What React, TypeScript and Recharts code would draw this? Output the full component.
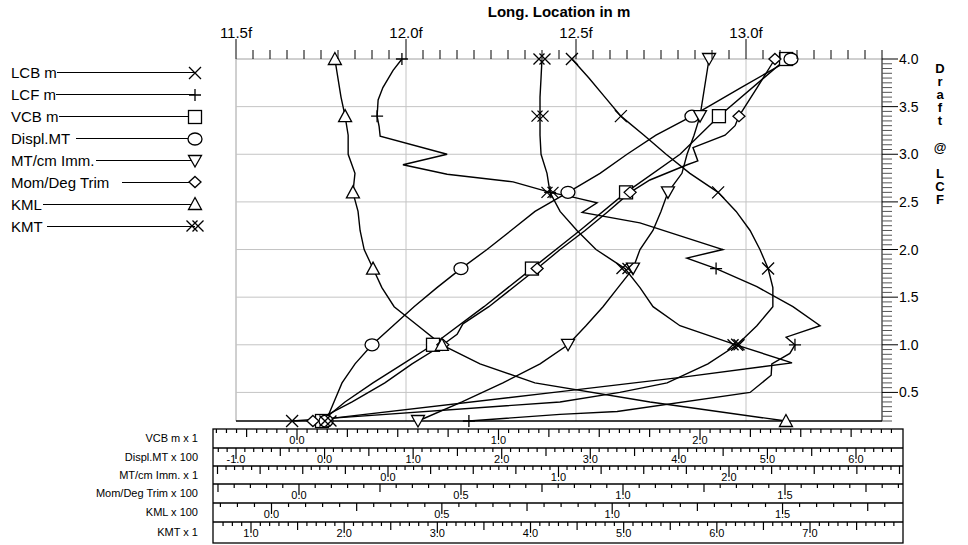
import React from "react";
import { ComposedChart, Line, XAxis, YAxis, ReferenceLine } from "recharts";

// ---- data (draft in m, value on each curve's own scale) ----
const lcbDraft = [4.0, 3.8, 3.6, 3.4, 3.2, 3.0, 2.8, 2.6, 2.4, 2.2, 2.0, 1.8, 1.6, 1.4, 1.2, 1.0, 0.8, 0.6, 0.5, 0.4, 0.23, 0.2];
const lcbValue = [12.488, 12.538, 12.585, 12.632, 12.7, 12.765, 12.835, 12.918, 12.971, 13.012, 13.041, 13.065, 13.079, 13.079, 13.032, 12.974, 12.888, 12.768, 12.629, 12.453, 11.785, 11.665];

const lcfDraft = [4.0, 3.88, 3.7, 3.57, 3.4, 3.29, 3.19, 3.0, 2.89, 2.79, 2.71, 2.6, 2.55, 2.49, 2.39, 2.28, 2.0, 1.91, 1.8, 1.61, 1.4, 1.2, 1.08, 1.0, 0.91, 0.8, 0.68, 0.5, 0.3, 0.27, 0.2];
const lcfValue = [11.988, 11.962, 11.932, 11.918, 11.915, 11.921, 11.924, 12.121, 11.991, 12.121, 12.315, 12.424, 12.491, 12.562, 12.518, 12.688, 12.932, 12.826, 12.912, 13.032, 13.138, 13.218, 13.118, 13.144, 13.129, 13.076, 13.074, 13.012, 12.621, 12.453, 12.185];

const vcbDraft = [4.0, 3.4, 3.0, 2.6, 2.2, 1.8, 1.4, 1.0, 0.8, 0.6, 0.4, 0.2];
const vcbValue = [2.427, 2.094, 1.901, 1.633, 1.404, 1.166, 0.928, 0.675, 0.526, 0.377, 0.238, 0.124];

const displDraft = [4.0, 3.7, 3.4, 3.2, 3.0, 2.8, 2.6, 2.4, 2.2, 2.0, 1.8, 1.6, 1.4, 1.2, 1.0, 0.8, 0.6, 0.4, 0.2];
const displValue = [5.266, 4.702, 4.148, 3.742, 3.415, 3.11, 2.748, 2.376, 2.105, 1.834, 1.54, 1.269, 1.01, 0.773, 0.536, 0.344, 0.197, 0.106, 0.016];

const mtcDraft = [4.0, 3.4, 3.2, 3.0, 2.8, 2.6, 2.4, 2.2, 2.0, 1.8, 1.6, 1.4, 1.2, 1.0, 0.8, 0.6, 0.4, 0.2];
const mtcValue = [1.883, 1.83, 1.795, 1.754, 1.724, 1.642, 1.601, 1.554, 1.478, 1.437, 1.349, 1.261, 1.161, 1.056, 0.892, 0.674, 0.434, 0.176];

const momDraft = [4.0, 3.7, 3.4, 3.3, 3.2, 3.07, 2.93, 2.89, 2.73, 2.6, 2.4, 2.2, 2.0, 1.8, 1.4, 1.22, 1.11, 1.0, 0.8, 0.6, 0.4, 0.25, 0.2];
const momValue = [1.469, 1.414, 1.358, 1.346, 1.315, 1.216, 1.231, 1.198, 1.083, 1.022, 0.954, 0.883, 0.806, 0.735, 0.586, 0.506, 0.488, 0.444, 0.349, 0.265, 0.164, 0.08, 0.043];

const kmlDraft = [4.0, 3.8, 3.6, 3.4, 3.2, 3.0, 2.8, 2.6, 2.4, 2.2, 2.0, 1.8, 1.6, 1.4, 1.2, 1.0, 0.8, 0.6, 0.4, 0.2];
const kmlValue = [0.186, 0.195, 0.204, 0.216, 0.225, 0.225, 0.245, 0.239, 0.254, 0.26, 0.272, 0.298, 0.324, 0.36, 0.43, 0.5, 0.612, 0.773, 1.111, 1.51];

const kmtDraft = [4.0, 3.8, 3.6, 3.4, 3.2, 3.0, 2.8, 2.6, 2.4, 2.2, 2.0, 1.8, 1.6, 1.4, 1.2, 1.0, 0.81, 0.66, 0.5, 0.23, 0.2];
const kmtValue = [4.123, 4.113, 4.102, 4.102, 4.102, 4.113, 4.177, 4.209, 4.317, 4.499, 4.703, 5.014, 5.175, 5.315, 5.604, 6.206, 6.807, 5.637, 4.252, 1.88, 1.826];

// drafts where the symbols are drawn
const markerDrafts = [4.0, 3.4, 2.6, 1.8, 1.0, 0.2];

// axis labels
const topLabels = [11.5, 12.0, 12.5, 13.0];
const gridLong = [12.0, 12.5, 13.0];
const gridDraft = [0.5, 1.0, 1.5, 2.0, 2.5, 3.0, 3.5];
const rightLabels = [0.5, 1.0, 1.5, 2.0, 2.5, 3.0, 3.5, 4.0];

const legendNames = ["LCB m", "LCF m", "VCB m", "Displ.MT", "MT/cm Imm.", "Mom/Deg Trim", "KML", "KMT"];
const legendMarks = ["x", "plus", "square", "circle", "tdown", "diamond", "tup", "xx"];
const legendGap = [0, 0, 0, 6, 2, 13, 1, 4];

const scaleNames = ["VCB m x 1", "Displ.MT x 100", "MT/cm Imm. x 1", "Mom/Deg Trim x 100", "KML  x 100", "KMT  x 1"];
const vcbLabels = [0, 1, 2];
const displLabels = [-1, 0, 1, 2, 3, 4, 5, 6];
const mtcLabels = [0, 1, 2];
const momLabels = [0, 0.5, 1, 1.5];
const kmlLabels = [0, 0.5, 1, 1.5];
const kmtLabels = [1, 2, 3, 4, 5, 6, 7];

const sideTitle = "Draft @ LCF";

const FONT = "'Liberation Sans', Arial, sans-serif";
const PLOT_W = 646;

const toPoints = (ds: number[], vs: number[]) => ds.map((d, i) => ({ d, v: vs[i] }));

function range(lo: number, hi: number, step: number) {
  const out: number[] = [];
  for (let i = Math.ceil(lo / step - 1e-6); i * step <= hi + 1e-6; i++) {
    out.push(Math.round(i * step * 1000) / 1000);
  }
  return out;
}

const near = (a: number, b: number) => Math.abs(a - b) < 1e-6;
const onStep = (v: number, step: number) => near(v / step, Math.round(v / step));

function Marker({ kind, cx, cy }: { kind: string; cx: number; cy: number }) {
  const open = { stroke: "#000", strokeWidth: 1.3, fill: "#fff" };
  const ln = { stroke: "#000", strokeWidth: 1.3, fill: "none" };
  const cross = (x: number, y: number, r: number) =>
    `M${x - r} ${y - r}L${x + r} ${y + r}M${x - r} ${y + r}L${x + r} ${y - r}`;
  switch (kind) {
    case "x":
      return <path d={cross(cx, cy, 6)} {...ln} />;
    case "plus":
      return <path d={`M${cx - 6} ${cy}H${cx + 6}M${cx} ${cy - 6}V${cy + 6}`} {...ln} />;
    case "square":
      return <rect x={cx - 6.5} y={cy - 6.5} width={13} height={13} {...open} />;
    case "circle":
      return <ellipse cx={cx} cy={cy} rx={7} ry={6} {...open} />;
    case "tdown":
      return <path d={`M${cx - 6.5} ${cy - 5.5}H${cx + 6.5}L${cx} ${cy + 6}Z`} {...open} />;
    case "diamond":
      return <path d={`M${cx} ${cy - 5.5}L${cx + 6} ${cy}L${cx} ${cy + 5.5}L${cx - 6} ${cy}Z`} {...open} />;
    case "tup":
      return <path d={`M${cx} ${cy - 6.5}L${cx + 6.5} ${cy + 5.5}H${cx - 6.5}Z`} {...open} />;
    default:
      return <path d={cross(cx - 3, cy, 5.5) + cross(cx + 3, cy, 5.5)} {...ln} />;
  }
}

const dotFor = (kind: string) => (p: any) => {
  const show = p.payload && markerDrafts.some((m) => near(m, p.payload.d));
  if (!show || p.cx == null || p.cy == null) return <g key={`n-${p.index}`} />;
  return (
    <g key={`m-${p.index}`}>
      <Marker kind={kind} cx={p.cx} cy={p.cy} />
    </g>
  );
};

// bottom scale rows: each one is the x axis of its own curve
// (recharts stacks bottom axes by id, hence the letter prefixes)
const rows = [
  { id: "b_vcb", name: scaleNames[0], domain: [-0.3027, 2.9032], minor: 0.05, major: 0.25, labels: vcbLabels, height: 19, draft: vcbDraft, value: vcbValue, mark: "square" },
  { id: "c_displ", name: scaleNames[1], domain: [-1.0, 6.2937], minor: 0.1, major: 0.5, labels: displLabels, height: 18, draft: displDraft, value: displValue, mark: "circle" },
  { id: "d_mtc", name: scaleNames[2], domain: [-0.8915, 2.8974], minor: 0.05, major: 0.25, labels: mtcLabels, height: 18, draft: mtcDraft, value: mtcValue, mark: "tdown" },
  { id: "e_mom", name: scaleNames[3], domain: [-0.1944, 1.7994], minor: 0.05, major: 0.25, labels: momLabels, height: 19, draft: momDraft, value: momValue, mark: "diamond" },
  { id: "f_kml", name: scaleNames[4], domain: [-0.1042, 1.7919], minor: 0.05, major: 0.25, labels: kmlLabels, height: 19, draft: kmlDraft, value: kmlValue, mark: "tup" },
  { id: "g_kmt", name: scaleNames[5], domain: [0.839, 7.7726], minor: 0.1, major: 0.5, labels: kmtLabels, height: 21, draft: kmtDraft, value: kmtValue, mark: "xx" },
];

const rowTicks = (domain: number[], step: number) => {
  const perPx = (domain[1] - domain[0]) / PLOT_W;
  return range(domain[0] - 20 * perPx, domain[1] + 18 * perPx, step);
};

const rowTick = (row: (typeof rows)[number]) => (props: any) => {
  const { x, y, payload } = props;
  const v = payload.value;
  const isLabel = row.labels.some((l) => near(l, v));
  const len = isLabel ? 11 : onStep(v, row.major) ? 8 : 4;
  return (
    <g>
      {isLabel && (
        <text x={x} y={y + 15} textAnchor="middle" fontSize={11} fontFamily={FONT} fill="#000">
          {v.toFixed(1)}
        </text>
      )}
      <line x1={x} x2={x} y1={y} y2={y + len} stroke="#000" strokeWidth={1.2} />
    </g>
  );
};

const topTick = (props: any) => {
  const { x, y, payload } = props;
  const v = payload.value;
  const isLabel = topLabels.some((l) => near(l, v));
  return (
    <g>
      <line x1={x} x2={x} y1={y} y2={y - (isLabel ? 20 : 9)} stroke="#000" strokeWidth={1} />
      {isLabel && (
        <text x={x} y={y - 21} textAnchor="middle" fontSize={15} fontFamily={FONT} fill="#000">
          {`${v.toFixed(1)}f`}
        </text>
      )}
    </g>
  );
};

const rightTick = (props: any) => {
  const { x, y, payload } = props;
  const v = payload.value;
  const isLabel = rightLabels.some((l) => near(l, v));
  return (
    <g>
      <line x1={x} x2={x + (isLabel ? 16 : 10)} y1={y} y2={y} stroke={isLabel ? "#000" : "#555"} strokeWidth={1} />
      {isLabel && (
        <text x={x + 17} y={y + 5} fontSize={14} fontFamily={FONT} fill="#000">
          {v.toFixed(1)}
        </text>
      )}
    </g>
  );
};

function SideTitle(props: any) {
  const vb = props.viewBox || { x: 882 };
  return (
    <g>
      {sideTitle.split("").map((ch, i) => (
        <text key={i} x={vb.x + 58} y={73 + i * 13.1} textAnchor="middle" fontSize={13} fontWeight="bold" fontFamily={FONT} fill="#000">
          {ch.trim()}
        </text>
      ))}
    </g>
  );
}

function LegendBox() {
  return (
    <div style={{ position: "absolute", left: 11, top: 62, width: 185, fontFamily: FONT, fontSize: 15, color: "#000" }}>
      {legendNames.map((n, i) => (
        <div key={n} style={{ display: "flex", alignItems: "center", height: 21.9 }}>
          <span style={{ whiteSpace: "pre" }}>{n}</span>
          <div style={{ flex: 1, marginLeft: legendGap[i], borderTop: "1.3px solid #000", height: 0 }} />
          <svg width={1} height={16} style={{ display: "block", overflow: "visible" }}>
            <Marker kind={legendMarks[i]} cx={0} cy={8} />
          </svg>
        </div>
      ))}
    </div>
  );
}

function ScaleBox() {
  const lines = [448, 466, 484, 503, 522];
  return (
    <svg width={968} height={545} style={{ position: "absolute", left: 0, top: 0, pointerEvents: "none" }}>
      <rect x={213} y={429} width={690} height={114} fill="none" stroke="#000" strokeWidth={1.3} />
      {lines.map((y) => (
        <line key={y} x1={213} x2={903} y1={y} y2={y} stroke="#000" strokeWidth={1.3} />
      ))}
    </svg>
  );
}

export default function App() {
  const longTicks = range(11.5, 13.4, 0.05);
  const draftTicks = range(0.2, 4.0, 0.05);
  const lcb = toPoints(lcbDraft, lcbValue);
  const lcf = toPoints(lcfDraft, lcfValue);

  return (
    <div style={{ position: "absolute", left: 0, top: 0, width: 968, height: 545, background: "#fff", fontFamily: FONT }}>
      <ComposedChart width={968} height={545} margin={{ top: 0, right: 0, bottom: 2, left: 236 }}>
        <XAxis
          xAxisId="long"
          orientation="top"
          type="number"
          dataKey="v"
          domain={[11.5, 13.4]}
          ticks={longTicks}
          interval={0}
          height={59}
          tickSize={0}
          tickMargin={0}
          tickLine={false}
          axisLine={{ stroke: "#a0a0a0" }}
          tick={topTick}
          label={{ value: "Long. Location in m", position: "insideTop", offset: 6, fontSize: 15, fontWeight: "bold", fill: "#000" }}
        />
        <XAxis xAxisId="a_pad" orientation="bottom" type="number" domain={[0, 1]} height={8} tick={false} tickLine={false} axisLine={{ stroke: "#000", strokeWidth: 1.5 }} />
        {rows.map((r) => (
          <XAxis
            key={r.id}
            xAxisId={r.id}
            orientation="bottom"
            type="number"
            dataKey="v"
            domain={r.domain}
            ticks={rowTicks(r.domain, r.minor)}
            interval={0}
            height={r.height}
            tickSize={0}
            tickMargin={0}
            tickLine={false}
            axisLine={false}
            tick={rowTick(r)}
            label={{ value: r.name, position: "left", offset: 38, fontSize: 11, fill: "#000" }}
          />
        ))}
        <YAxis
          yAxisId="d"
          orientation="right"
          type="number"
          domain={[0.2, 4.0]}
          ticks={draftTicks}
          interval={0}
          width={86}
          tickSize={0}
          tickMargin={0}
          tickLine={false}
          axisLine={{ stroke: "#000" }}
          tick={rightTick}
          label={<SideTitle />}
        />

        <ReferenceLine xAxisId="long" yAxisId="d" x={11.5} stroke="#a0a0a0" />
        {gridLong.map((v) => (
          <ReferenceLine key={`gx${v}`} xAxisId="long" yAxisId="d" x={v} stroke="#c4c4c4" />
        ))}
        {gridDraft.map((v) => (
          <ReferenceLine key={`gy${v}`} xAxisId="long" yAxisId="d" y={v} stroke="#c4c4c4" />
        ))}

        <Line xAxisId="long" yAxisId="d" data={lcb} dataKey="d" type="linear" stroke="#000" strokeWidth={1.4} dot={dotFor("x")} activeDot={false} isAnimationActive={false} />
        <Line xAxisId="long" yAxisId="d" data={lcf} dataKey="d" type="linear" stroke="#000" strokeWidth={1.4} dot={dotFor("plus")} activeDot={false} isAnimationActive={false} />
        {rows.map((r) => (
          <Line
            key={r.id}
            xAxisId={r.id}
            yAxisId="d"
            data={toPoints(r.draft, r.value)}
            dataKey="d"
            type="linear"
            stroke="#000"
            strokeWidth={1.4}
            dot={dotFor(r.mark)}
            activeDot={false}
            isAnimationActive={false}
          />
        ))}
      </ComposedChart>
      <ScaleBox />
      <LegendBox />
    </div>
  );
}
